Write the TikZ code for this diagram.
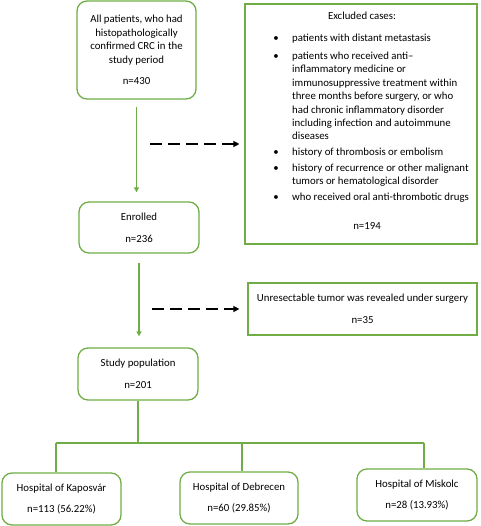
\documentclass[tikz,border=0pt]{standalone}
\usepackage{fontspec}
\setmainfont{Carlito}
\usetikzlibrary{arrows.meta}
\definecolor{grn}{HTML}{70AD47}
\begin{document}
\begin{tikzpicture}[x=1pt,y=-1pt,
  box/.style={draw=grn, line width=1.3pt, rounded corners=10pt, align=center, inner sep=0pt,
    font=\fontsize{10.8}{13.6}\selectfont},
  sqbox/.style={box, rounded corners=0pt},
  flow/.style={draw=grn, line width=1.3pt, -{Triangle[length=5pt,width=5pt]}},
  exarrow/.style={draw=black, line width=1.6pt, dash pattern=on 12pt off 6pt, -{Triangle[length=6pt,width=6pt]}},
  tree/.style={draw=grn, line width=1.3pt},
  txt/.style={inner sep=0pt, align=left, anchor=north west, font=\fontsize{10.8}{13.4}\selectfont},
  ctxt/.style={inner sep=0pt, font=\fontsize{10.8}{13.4}\selectfont},
  bul/.style={inner sep=0pt, font=\fontsize{10.8}{13.4}\selectfont},
]
\useasboundingbox (0,0) rectangle (480,526);

% main flow boxes
\node[box, minimum width=119pt, minimum height=98pt] (all) at (136.5,50)
  {All patients, who had\\histopathologically\\confirmed CRC in the\\study period\\[8pt]n=430};
\node[box, minimum width=120pt, minimum height=51pt] (enr) at (139,227.5)
  {Enrolled\\[8pt]n=236};
\node[box, minimum width=120pt, minimum height=52pt] (study) at (138,374)
  {Study population\\[8pt]n=201};

% exclusion boxes
\node[sqbox, minimum width=232pt, minimum height=240pt] (excl) at (361,124) {};
\node[ctxt] (exttl) at (362,16) {Excluded cases:};
\node[bul] (b1) at (276,39) {\textbullet};
\node[bul] (b2) at (276,57) {\textbullet};
\node[bul] (b3) at (276,153) {\textbullet};
\node[bul] (b4) at (276,169) {\textbullet};
\node[bul] (b5) at (276,198) {\textbullet};
\node[txt] (i1) at (292,32) {\strut patients with distant metastasis};
\node[txt] (i2) at (292,50) {\strut patients who received anti--\\inflammatory medicine or\\immunosuppressive treatment within\\three months before surgery, or who\\had chronic inflammatory disorder\\including infection and autoimmune\\diseases};
\node[txt] (i3) at (292,146) {\strut history of thrombosis or embolism};
\node[txt] (i4) at (292,162) {\strut history of recurrence or other malignant\\tumors or hematological disorder};
\node[txt] (i5) at (292,191) {\strut who received oral anti-thrombotic drugs};
\node[ctxt] (exn) at (367,226) {n=194};

\node[sqbox, minimum width=229pt, minimum height=52pt] (unres) at (362.5,309)
  {Unresectable tumor was revealed under surgery\\[8pt]n=35};

% hospitals
\node[box, minimum width=119pt, minimum height=52pt] (kap) at (61.5,499)
  {Hospital of Kaposvár\\[8pt]n=113 (56.22\%)};
\node[box, minimum width=118pt, minimum height=52pt] (deb) at (239,498)
  {Hospital of Debrecen\\[8pt]n=60 (29.85\%)};
\node[box, minimum width=120pt, minimum height=52pt] (mis) at (417,495)
  {Hospital of Miskolc\\[8pt]n=28 (13.93\%)};

% flow arrows
\draw[flow, shorten <=7pt, shorten >=9pt] (all.south) -- (all.south |- enr.north);
\draw[flow, shorten <=9pt, shorten >=11pt] (enr.south) -- (enr.south |- study.north);

% dashed exclusion arrows
\coordinate (d1) at (150,144);
\coordinate (d2) at (152,309);
\draw[exarrow, shorten >=5pt] (d1) -- (d1 -| excl.west);
\draw[exarrow, shorten >=8pt] (d2) -- (unres.west);

% tree
\coordinate (j0) at (138,443);
\coordinate (jL) at (56,443);
\coordinate (jM) at (242,443);
\coordinate (jR) at (424,443);
\draw[tree] (study.south) -- (j0);
\draw[tree] (jL) -- (jR);
\draw[tree] (jL) -- (jL |- kap.north);
\draw[tree] (jM) -- (jM |- deb.north);
\draw[tree] (jR) -- (jR |- mis.north);
\end{tikzpicture}
\end{document}
